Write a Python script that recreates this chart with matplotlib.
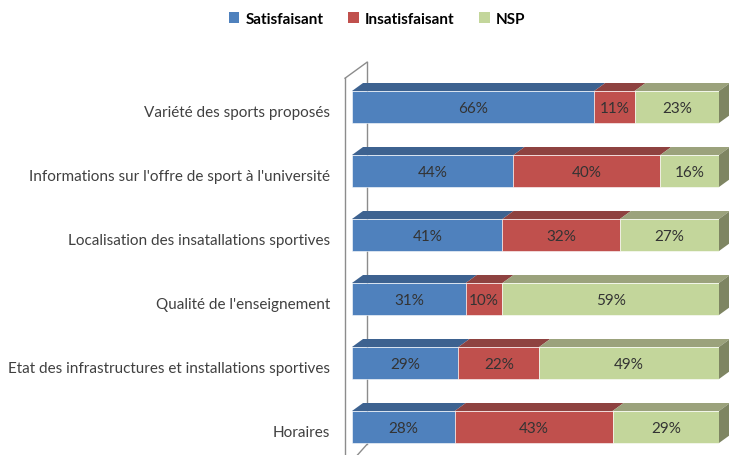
import matplotlib
matplotlib.use("Agg")
import matplotlib.pyplot as plt
from matplotlib.patches import Polygon, Patch
import numpy as np

categories = [
    "Variété des sports proposés",
    "Informations sur l'offre de sport à l'université",
    "Localisation des insatallations sportives",
    "Qualité de l'enseignement",
    "Etat des infrastructures et installations sportives",
    "Horaires",
]
series_names = ["Satisfaisant", "Insatisfaisant", "NSP"]
satisfaisant = [66, 44, 41, 31, 29, 28]
insatisfaisant = [11, 40, 32, 10, 22, 43]
nsp = [23, 16, 27, 59, 49, 29]

front_colors = ["#4F81BD", "#C0504D", "#C3D69B"]
top_colors = ["#3D6290", "#8E4240", "#9BA27C"]
side_color = "#7E8562"

plt.rcParams['font.family'] = ['Lato', 'DejaVu Sans']

W, H = 729, 456
fig = plt.figure(figsize=(W / 100, H / 100), dpi=100)
ax = fig.add_axes([352 / W, 0, 367 / W, 1 - 60 / H])
ax.set_xlim(0, 100)
ax.set_ylim(5.4375, -0.75)

bar_h = 0.5
DX, DY = 3.0, 0.125  # profondeur 3d en unites de donnees

# contour du mur du fond
wall = "#8C8C8C"
ax.plot([-1.9, -1.9], [5.5, -0.45], color=wall, lw=1, clip_on=False)
ax.plot([-1.9, 4.1], [-0.45, -0.7], color=wall, lw=1, clip_on=False)
ax.plot([4.1, 4.1], [-0.7, 5.27], color=wall, lw=1, clip_on=False)
ax.plot([4.1, 1.3], [5.27, 5.45], color=wall, lw=1, clip_on=False)

ypos = np.arange(len(categories))
series = [satisfaisant, insatisfaisant, nsp]
left = np.zeros(len(categories))
for k, vals in enumerate(series):
    vals = np.array(vals, dtype=float)
    ax.barh(ypos, vals, left=left, height=bar_h, color=front_colors[k],
            edgecolor="white", linewidth=0.4, zorder=3)
    for i in range(len(categories)):
        l, r = left[i], left[i] + vals[i]
        yt = ypos[i] - bar_h / 2
        top = Polygon([(l, yt), (r, yt), (r + DX, yt - DY), (l + DX, yt - DY)],
                      closed=True, facecolor=top_colors[k], edgecolor="none",
                      zorder=2, clip_on=False)
        ax.add_patch(top)
        ax.text((l + r) / 2, ypos[i] + 0.02, f"{int(vals[i])}%", ha="center",
                va="center", fontsize=11, color="#333333", zorder=5)
    left = left + vals

# face laterale du dernier segment
for i in range(len(categories)):
    yt = ypos[i] - bar_h / 2
    yb = ypos[i] + bar_h / 2
    side = Polygon([(left[i], yt), (left[i] + DX, yt - DY), (left[i] + DX, yb - DY),
                    (left[i], yb)], closed=True, facecolor=side_color,
                   edgecolor="none", zorder=2, clip_on=False)
    ax.add_patch(side)

ax.set_yticks(ypos + 0.06)
ax.set_yticklabels(categories, fontsize=11, color="#404040")
ax.tick_params(axis="y", length=0, pad=16)
ax.set_xticks([])
for s in ax.spines.values():
    s.set_visible(False)
ax.patch.set_visible(False)

handles = [Patch(facecolor=c, edgecolor="none") for c in front_colors]
fig.legend(handles, series_names, loc="center", bbox_to_anchor=(377 / W, 1 - 20 / H),
           ncol=3, frameon=False, handlelength=0.7, handleheight=0.7,
           handletextpad=0.4, columnspacing=1.6,
           prop={"weight": "bold", "size": 11})

fig.savefig("out.png", dpi=100)
